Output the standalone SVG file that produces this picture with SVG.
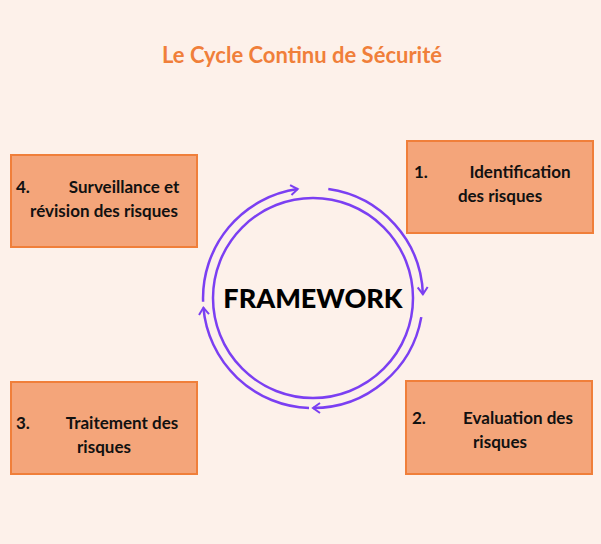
<svg xmlns="http://www.w3.org/2000/svg" width="601" height="544" viewBox="0 0 601 544">
<style>
.box{fill:#f4a57a;stroke:#f07f3a;stroke-width:2}
.t{font-family:Lato,"Noto Sans",sans-serif;font-size:17px;font-weight:bold;fill:#111}
.arc{fill:none;stroke:#7b3ff2;stroke-width:2.5}
</style>
<defs><marker id="ah" markerWidth="12" markerHeight="12" refX="8" refY="6" orient="auto" markerUnits="userSpaceOnUse"><path d="M1,1 L8,6 L1,11" fill="none" stroke="#7b3ff2" stroke-width="2"/></marker></defs>
<rect width="601" height="544" fill="#fdf1ea"/>
<text x="302" y="63" text-anchor="middle" font-family="Lato,'Noto Sans',sans-serif" font-size="22" font-weight="bold" fill="#f07f3a">Le Cycle Continu de Sécurité</text>
<g id="connectors">
<circle cx="313" cy="298" r="100" class="arc"/>
<path class="arc" marker-end="url(#ah)" d="M203.1,301.8 A110,110 0 0 1 297.7,189.1"/>
<path class="arc" marker-end="url(#ah)" d="M328.3,189.1 A110,110 0 0 1 422.9,294.2"/>
<path class="arc" marker-end="url(#ah)" d="M421.3,317.1 A110,110 0 0 1 313,408"/>
<path class="arc" marker-end="url(#ah)" d="M309,408 A110,110 0 0 1 203.4,307.6"/>
</g>
<g id="center"><text x="313" y="308" text-anchor="middle" font-family="Lato,'Noto Sans',sans-serif" font-size="27" font-weight="900" fill="#000">FRAMEWORK</text></g>
<g id="n1"><rect class="box" x="407" y="141" width="186" height="92"/>
<text class="t" x="414" y="178">1.</text><text class="t" x="520" y="178" text-anchor="middle">Identification</text>
<text class="t" x="500" y="202" text-anchor="middle">des risques</text></g>
<g id="n2"><rect class="box" x="406" y="381" width="186" height="93"/>
<text class="t" x="412" y="424">2.</text><text class="t" x="518" y="424" text-anchor="middle">Evaluation des</text>
<text class="t" x="500" y="448" text-anchor="middle">risques</text></g>
<g id="n3"><rect class="box" x="11" y="382" width="186" height="92"/>
<text class="t" x="16" y="429">3.</text><text class="t" x="122" y="429" text-anchor="middle">Traitement des</text>
<text class="t" x="104" y="453" text-anchor="middle">risques</text></g>
<g id="n4"><rect class="box" x="11" y="155" width="186" height="92"/>
<text class="t" x="16" y="193">4.</text><text class="t" x="124" y="193" text-anchor="middle">Surveillance et</text>
<text class="t" x="104" y="217" text-anchor="middle">révision des risques</text></g>
</svg>
